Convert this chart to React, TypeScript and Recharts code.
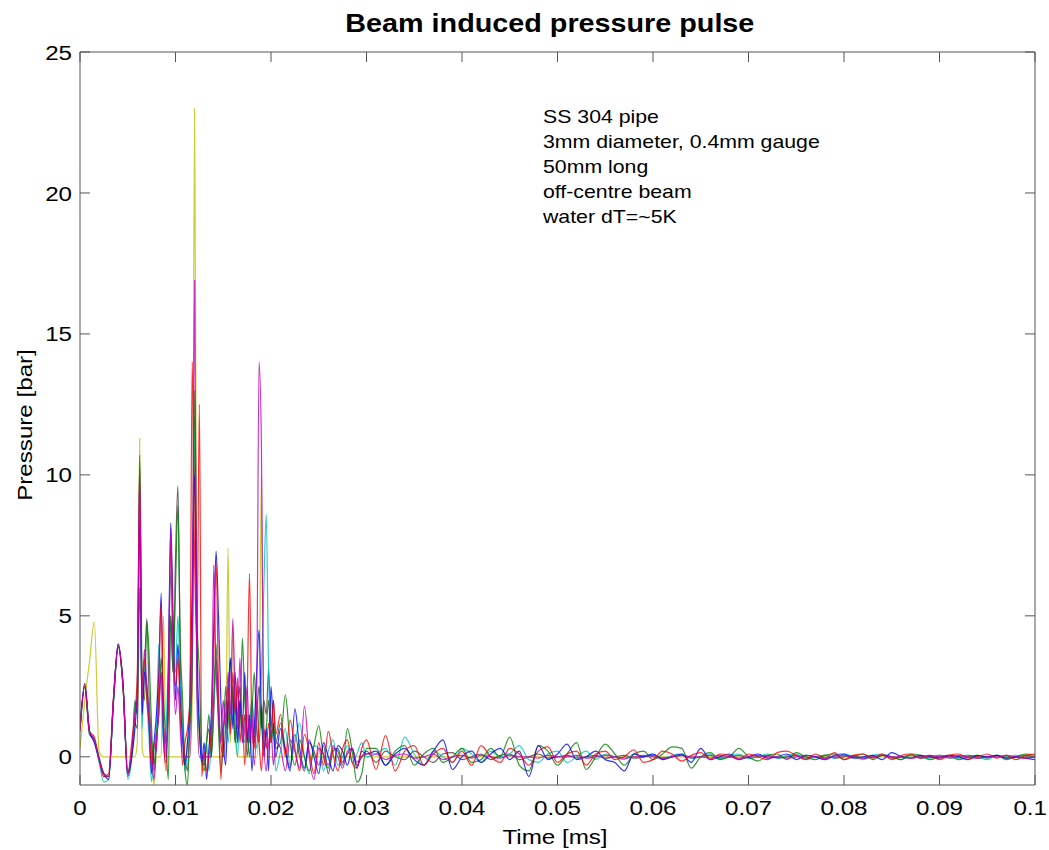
import React from 'react'
import { LineChart, Line, XAxis, YAxis } from 'recharts'

// sample times [ms]: coarse start, fine through the spike burst, then coarser tail
const timeMs = [
  0, 0.0005, 0.001, 0.0015, 0.002, 0.0025, 0.003, 0.0035, 0.004, 0.0045, 0.005,
  0.0055, 0.00575, 0.006, 0.00625, 0.0065, 0.00675, 0.007, 0.00725, 0.0075, 0.00775,
  0.008, 0.00825, 0.0085, 0.00875, 0.009, 0.00925, 0.0095, 0.00975, 0.01, 0.01025,
  0.0105, 0.01075, 0.011, 0.01125, 0.0115, 0.01175, 0.012, 0.01225, 0.0125, 0.01275,
  0.013, 0.01325, 0.0135, 0.01375, 0.014, 0.01425, 0.0145, 0.01475, 0.015, 0.01525,
  0.0155, 0.01575, 0.016, 0.01625, 0.0165, 0.01675, 0.017, 0.01725, 0.0175, 0.01775,
  0.018, 0.01825, 0.0185, 0.01875, 0.019, 0.01925, 0.0195, 0.01975, 0.02, 0.02025,
  0.0205,
  0.021, 0.0215, 0.022, 0.0225, 0.023, 0.0235, 0.024, 0.0245, 0.025, 0.0255,
  0.026, 0.0265, 0.027, 0.0275, 0.028, 0.0285, 0.029, 0.0295, 0.03,
  0.031, 0.032, 0.033, 0.034, 0.035, 0.036, 0.037, 0.038, 0.039, 0.04,
  0.041, 0.042, 0.043, 0.044, 0.045, 0.046, 0.047, 0.048, 0.049, 0.05,
  0.051, 0.052, 0.053, 0.054, 0.055, 0.056, 0.057, 0.058, 0.059, 0.06,
  0.061, 0.062, 0.063, 0.064, 0.065, 0.066, 0.067, 0.068, 0.069, 0.07,
  0.071, 0.072, 0.073, 0.074, 0.075, 0.076, 0.077, 0.078, 0.079, 0.08,
  0.081, 0.082, 0.083, 0.084, 0.085, 0.086, 0.087, 0.088, 0.089, 0.09,
  0.091, 0.092, 0.093, 0.094, 0.095, 0.096, 0.097, 0.098, 0.099, 0.1,
]

// pressure [bar] for each run, same order as timeMs
const yellowRun = [
  0.3, 2.0, 3.4, 4.8, 0.2, 0, 0, 0, 0, 0, 0,
  0, 0, 0.5, 11.3, 0.3, 0, 0, 0, 0, -1.0,
  0, 0, 0, 5.0, 0, 0, 0, 0, 0, 0,
  0, 0, 0, 0, 0, 2.0, 23.0, 3.0, 0, 0,
  0, 0, 0, 0, 0, 0, 0, 0, 0, 0,
  7.4, 0.5, 4.6, 1.0, 0, 0, 0, 0, 0, 0,
  0, 0, 0, 1.5, 10.0, 0.5, 0, 0, 0, 0,
  0,
  0, 0, 0, 0, 0, 0, 0, 0, 0, 0, 0, 0, 0, 0, 0, 0, 0, 0, 0,
  0, 0, 0, 0, 0, 0, 0, 0, 0, 0,
  0, 0, 0, 0, 0, 0, 0, 0, 0, 0,
  0, 0, 0, 0, 0, 0, 0, 0, 0, 0,
  0, 0, 0, 0, 0, 0, 0, 0, 0, 0,
  0, 0, 0, 0, 0, 0, 0, 0, 0, 0,
  0, 0, 0, 0, 0, 0, 0, 0, 0, 0,
  0, 0, 0, 0, 0, 0, 0, 0, 0, 0,
]

const redRun = [
  0.9, 2.5, 0.9, 0.7, -0.1, -0.7, -0.6, 2.1, 3.9, 2.5, -0.6,
  0.8, 1.5, 3.0, 10.2, 2.5, 3.5, 2.0, 1.2, -0.4, 0.5,
  0.2, 2.5, 5.5, 1.0, -0.5, 2.0, 7.6, 4.0, 2.5, 3.5,
  1.5, -0.3, 0.5, 1.0, 2.0, 14.0, 7.0, 4.0, 12.5, -0.7,
  0.2, -0.5, 0.0, 1.0, 3.5, 6.9, 2.5, -0.8, 1.0, 1.5,
  2.5, 0.8, 3.0, 1.5, 2.8, 0.5, 1.5, -0.3, 2.0, 6.5,
  1.0, 0.3, 2.0, 0.5, -0.5, 1.0, 0.3, 1.2, 0.5, 2.0,
  0.8,
  1.5, 0.0, 1.3, 0.3, -0.5, 0.8, 0.2, -0.6, 0.5, -0.3, 0.9, 0.1, -0.5, 0.3, 0.6, -0.2, -0.4, 0.3, 0.6,
  -0.45, 0.75, -0.5, 0.2, 0.4, -0.3, 0.1, 0.3, -0.2, 0.2,
  -0.3, 0.4, 0.0, -0.2, 0.3, 0.1, -0.3, 0.2, 0.35, -0.2,
  0.1, 0.2, -0.3, 0.1, 0.2, -0.1, 0.0, 0.25, -0.2, -0.1,
  0.2, 0.1, -0.15, 0.05, 0.15, -0.1, 0.1, 0.05, -0.1, 0.1,
  0.0, -0.1, 0.15, 0.2, 0.05, -0.1, 0.1, -0.05, 0.15, -0.1,
  0.05, 0.1, -0.05, 0.1, -0.1, 0.05, 0.1, -0.05, 0.05, -0.1,
  0.05, 0.1, -0.05, 0.0, 0.1, -0.05, 0.05, -0.1, 0.05, 0.1,
]

const greenRun = [
  1.0, 2.5, 0.8, 0.6, 0.0, -0.6, -0.7, 1.9, 3.9, 2.6, -0.5,
  0.5, 2.0, 1.5, 10.7, 3.0, 2.0, 4.8, 3.5, 1.0, -0.3,
  0.8, 1.5, 3.5, 2.0, 0.5, -0.8, 5.0, 3.0, 6.0, 8.9,
  4.0, 2.0, -0.5, -1.0, 1.0, 3.0, 13.0, 5.0, 3.0, 0.0,
  -0.5, 0.5, 1.5, 0.0, 2.0, 4.0, 1.0, -0.5, 0.5, 2.5,
  1.0, 3.5, 2.0, 0.5, 2.5, 1.0, 4.2, 2.0, 1.0, 0.0,
  1.5, 3.0, 1.0, 0.5, 1.8, 0.2, 1.0, 2.0, 0.5, 1.2,
  0.3,
  0.5, 2.2, 0.5, -0.3, 0.6, 0.0, -0.5, 0.4, 1.1, 0.0, -0.4, 0.3, 0.2, -0.3, 1.0, 0.2, -0.9, -0.6, 0.3,
  0.3, -0.3, 0.2, 0.4, -0.3, 0.1, 0.3, -0.2, 0.0, 0.3,
  -0.2, -0.1, 0.3, 0.0, 0.7, -0.3, -0.5, 0.4, 0.2, -0.3,
  0.1, 0.5, -0.45, 0.0, 0.45, 0.1, -0.3, 0.1, 0.2, -0.1,
  0.1, 0.35, 0.3, -0.4, 0.0, 0.15, -0.1, 0.0, 0.3, 0.0,
  -0.15, 0.05, 0.1, -0.1, 0.15, 0.0, -0.1, 0.05, 0.1, -0.1,
  0.0, 0.1, -0.1, 0.05, 0.0, -0.1, 0.1, 0.05, -0.1, 0.0,
  0.05, -0.1, 0.0, 0.05, -0.05, 0.05, -0.1, 0.0, 0.1, 0.05,
]

const blueRun = [
  1.0, 2.6, 0.9, 0.5, -0.1, -0.6, -0.8, 2.0, 4.0, 2.6, -0.7,
  0.2, 1.0, 2.5, 8.4, 1.5, 3.0, 2.5, 1.0, -0.6, 0.5,
  1.5, 3.0, 5.8, 0.5, -0.2, 3.0, 8.3, 5.0, 2.0, 4.0,
  2.0, 0.5, -0.3, 0.5, 2.0, 6.0, 10.0, 4.0, 1.0, -0.2,
  0.5, -0.8, 0.3, 1.5, 4.5, 7.3, 5.0, 2.0, 0.5, -0.3,
  2.0, 3.5, 1.0, 3.0, 0.5, 2.0, 1.0, 3.0, 0.5, 1.5,
  -0.5, 1.0, 3.0, 4.5, 1.5, 0.0, 1.0, -0.5, 2.5, 1.0,
  0.0,
  1.0, 0.2, -0.5, 1.7, 0.3, -0.4, 0.6, 0.0, -0.6, 0.5, 0.0, -0.5, 0.4, 0.2, -0.3, 0.3, -0.4, 0.2, 0.1,
  0.2, -0.3, 0.1, 0.3, -0.1, -0.3, 0.2, 0.6, -0.45, 0.0,
  0.2, -0.2, 0.1, 0.3, -0.1, 0.2, -0.7, 0.4, -0.1, 0.1,
  0.45, -0.1, 0.0, 0.2, -0.1, -0.2, -0.5, 0.1, 0.0, 0.1,
  -0.1, 0.0, 0.1, -0.2, 0.3, -0.1, 0.0, 0.1, -0.1, 0.0,
  0.1, -0.05, 0.0, 0.1, -0.1, 0.05, 0.0, -0.1, 0.05, 0.1,
  -0.05, 0.0, 0.05, -0.1, 0.15, 0.0, -0.05, 0.05, 0.0, -0.05,
  0.05, 0.0, -0.1, 0.05, 0.0, 0.05, -0.05, 0.0, -0.05, -0.1,
]

const magentaRun = [
  1.0, 2.6, 0.9, 0.6, -0.1, -0.6, -0.7, 2.0, 4.0, 2.6, -0.6,
  0.5, 1.5, 2.0, 10.0, 2.0, 3.8, 2.5, 1.5, 0.0, -0.8,
  0.5, 1.5, 3.0, 1.0, 0.0, 2.5, 8.1, 3.5, 1.5, 2.5,
  1.0, 0.0, 0.0, 0.0, 0.0, 4.0, 16.9, 2.0, 0.0, 0.0,
  0.0, 0.0, 0.0, 0.0, 6.8, 3.0, 1.5, 0.5, 2.0, 1.0,
  3.0, 1.5, 4.9, 2.0, 1.0, 3.5, 0.5, 1.0, 2.5, 0.5,
  1.5, -0.3, 2.0, 14.0, 11.0, 0.5, -0.5, 0.5, 1.0, -0.3,
  0.5,
  0.3, -0.5, 0.6, 0.2, -0.4, 1.8, 0.0, -0.8, 0.3, 0.1, -0.3, 0.4, 0.0, -0.4, 0.2, 0.3, -0.2, 0.0, 0.1,
  0.1, -0.1, 0.05, 0.1, -0.05, 0.0, 0.1, -0.1, 0.0, 0.05,
  -0.05, 0.05, 0.0, -0.05, 0.05, 0.0, 0.0, -0.05, 0.05, 0.0,
  0.0, 0.05, -0.05, 0.0, 0.05, 0.0, -0.05, 0.0, 0.05, 0.0,
  -0.05, 0.0, 0.05, 0.0, 0.0, -0.05, 0.05, 0.0, -0.05, 0.0,
  0.05, 0.0, 0.0, -0.05, 0.0, 0.05, 0.0, -0.05, 0.0, 0.05,
  0.0, -0.05, 0.0, 0.05, 0.0, 0.0, -0.05, 0.0, 0.05, 0.0,
  0.0, 0.05, 0.0, -0.05, 0.0, 0.0, 0.05, 0.0, -0.05, 0.0,
]

const cyanRun = [
  0.9, 2.5, 0.8, 0.6, -0.2, -0.9, -0.8, 1.9, 3.9, 2.5, -0.8,
  0.3, 1.8, 2.0, 10.5, 1.0, 3.3, 2.0, 0.5, -0.9, 0.3,
  1.0, 4.0, 2.5, 0.5, 1.0, 3.5, 6.5, 4.0, 3.0, 5.0,
  2.5, 1.0, -0.5, 0.5, 1.0, 5.0, 12.0, 3.0, 1.0, -0.3,
  0.0, 0.5, -0.5, 0.5, 2.0, 3.0, 1.5, 0.5, 1.0, 2.0,
  0.5, 1.5, 2.5, 1.0, 0.0, 2.0, 1.0, 0.5, 1.5, 0.5,
  2.0, 1.0, 0.3, 1.5, 3.0, 6.0, 8.6, 3.0, 0.5, 1.0,
  -0.5,
  0.2, 1.0, -0.3, 0.5, 1.2, 0.0, -0.6, 0.4, 0.3, -0.5, 0.2, 0.6, -0.3, 0.0, 0.4, -0.2, 0.1, 0.5, 0.0,
  0.1, 0.3, -0.3, 0.7, 0.1, -0.3, 0.2, 0.0, -0.2, 0.3,
  0.1, -0.2, 0.2, 0.0, 0.1, 0.4, -0.1, -0.2, 0.1, 0.2,
  -0.2, 0.0, 0.2, -0.1, 0.1, 0.0, -0.1, 0.1, 0.0, 0.1,
  -0.1, 0.05, 0.1, -0.05, 0.0, 0.1, -0.1, 0.05, 0.1, -0.05,
  0.0, 0.1, -0.05, 0.05, 0.1, -0.1, 0.0, 0.05, -0.05, 0.1,
  0.0, -0.1, 0.05, 0.1, 0.0, -0.1, 0.05, 0.0, -0.05, 0.05,
  0.0, -0.05, 0.05, 0.0, -0.1, 0.05, 0.0, 0.05, -0.05, 0.0,
]

const blackRun = [
  1.0, 2.5, 0.9, 0.6, -0.1, -0.7, -0.7, 2.0, 4.0, 2.5, -0.6,
  0.3, 1.2, 1.0, 6.0, 2.0, 3.0, 4.9, 2.0, 0.5, -0.5,
  0.5, 2.0, 3.0, 1.0, 0.5, 1.5, 5.0, 3.0, 7.0, 9.6,
  3.5, 1.0, 0.0, -0.5, 1.5, 4.0, 11.0, 2.5, 1.0, 0.0,
  -0.3, 0.5, 1.0, 0.0, 1.5, 3.5, 2.0, 0.5, 0.0, 1.0,
  2.0, 1.0, 2.5, 0.5, 1.5, 2.5, 0.5, 1.5, 0.0, 1.0,
  2.0, 0.5, 1.5, 2.5, 1.0, 2.0, 1.5, 3.1, 1.0, 2.0,
  0.5,
  1.2, 0.3, -0.4, 0.8, 0.0, -0.5, 0.5, 0.2, -0.3, 0.4, -0.6, 0.2, 0.3, -0.2, 0.1, 0.3, -0.3, 0.0, 0.2,
  -0.2, 0.2, 0.0, -0.1, 0.2, 0.0, -0.2, 0.1, 0.15, -0.1,
  0.0, 0.1, -0.1, 0.05, 0.1, -0.1, 0.0, 0.1, -0.05, 0.0,
  0.05, -0.05, 0.0, 0.05, -0.05, 0.0, 0.05, -0.05, 0.0, 0.05,
  -0.05, 0.0, 0.05, -0.05, 0.0, 0.05, -0.05, 0.0, 0.05, -0.05,
  0.0, 0.05, -0.05, 0.0, 0.05, -0.05, 0.0, 0.05, -0.05, 0.0,
  0.05, -0.05, 0.0, 0.05, -0.05, 0.0, 0.05, -0.05, 0.0, 0.05,
  -0.05, 0.0, 0.05, -0.05, 0.0, 0.05, -0.05, 0.0, 0.05, 0.0,
]

const xTicks = [0, 0.01, 0.02, 0.03, 0.04, 0.05, 0.06, 0.07, 0.08, 0.09, 0.1]
const yTicks = [0, 5, 10, 15, 20, 25]
const noteLines = ['SS 304 pipe', '3mm diameter, 0.4mm gauge', '50mm long', 'off-centre beam', 'water dT=~5K']

// draw order: last one ends up on top
const runs = [
  { key: 'yellow', values: yellowRun, color: '#bfbf00' },
  { key: 'black', values: blackRun, color: '#404040' },
  { key: 'cyan', values: cyanRun, color: '#00bfbf' },
  { key: 'green', values: greenRun, color: '#008000' },
  { key: 'blue', values: blueRun, color: '#0000ff' },
  { key: 'red', values: redRun, color: '#ff0000' },
  { key: 'magenta', values: magentaRun, color: '#bf00bf' },
]

const rows = timeMs.map((t, i) => {
  const row: Record<string, number> = { t }
  runs.forEach((r) => {
    row[r.key] = r.values[i]
  })
  return row
})

const FONT = '"Liberation Sans", Arial, Helvetica, sans-serif'
const AXIS_COLOR = '#555555'
const TICK_LEN = 10
// the original figure's lettering is a bit wider than Arial
const STRETCH = 1.15
const LAST_X = xTicks[xTicks.length - 1]

function BottomTick(props: any) {
  const { x, y, payload } = props
  // the last label sits against the page edge, keep it inside
  const isLast = payload.value === LAST_X
  return (
    <g>
      <line x1={x} x2={x} y1={y - 14} y2={y - 14 - TICK_LEN} stroke={AXIS_COLOR} />
      <text
        transform={`translate(${isLast ? x + 12 : x} ${y}) scale(${STRETCH} 1)`}
        dy="0.76em"
        textAnchor={isLast ? 'end' : 'middle'}
        fontSize={21}
        fontFamily={FONT}
        fill="#000"
      >
        {payload.value}
      </text>
    </g>
  )
}

function LeftTick(props: any) {
  const { x, y, payload } = props
  return (
    <g>
      <line x1={x + 8} x2={x + 8 + TICK_LEN} y1={y} y2={y} stroke={AXIS_COLOR} />
      <text
        transform={`translate(${x} ${y}) scale(${STRETCH} 1)`}
        dy="0.36em"
        textAnchor="end"
        fontSize={21}
        fontFamily={FONT}
        fill="#000"
      >
        {payload.value}
      </text>
    </g>
  )
}

function TopTick(props: any) {
  const { x, y } = props
  return <line x1={x} x2={x} y1={y} y2={y + TICK_LEN} stroke={AXIS_COLOR} />
}

function RightTick(props: any) {
  const { x, y } = props
  return <line x1={x} x2={x - TICK_LEN} y1={y} y2={y} stroke={AXIS_COLOR} />
}

export default function App() {
  return (
    <div style={{ position: 'absolute', left: 0, top: 0, width: 1049, height: 850, background: '#fff', fontFamily: FONT }}>
      <LineChart width={1049} height={850} data={rows} margin={{ top: 42, right: 4, left: 20, bottom: 25 }}>
        <XAxis
          dataKey="t"
          type="number"
          domain={[0, 0.1]}
          ticks={xTicks}
          interval={0}
          allowDataOverflow
          height={40}
          tickSize={0}
          tickMargin={14}
          tickLine={false}
          tick={<BottomTick />}
          axisLine={{ stroke: AXIS_COLOR }}
        />
        <XAxis
          xAxisId="top"
          orientation="top"
          dataKey="t"
          type="number"
          domain={[0, 0.1]}
          ticks={xTicks}
          interval={0}
          allowDataOverflow
          height={10}
          tickSize={0}
          tickMargin={0}
          tickLine={false}
          tick={<TopTick />}
          axisLine={{ stroke: AXIS_COLOR }}
        />
        <YAxis
          type="number"
          domain={[-1, 25]}
          ticks={yTicks}
          interval={0}
          allowDataOverflow
          width={60}
          tickSize={0}
          tickMargin={8}
          tickLine={false}
          tick={<LeftTick />}
          axisLine={{ stroke: AXIS_COLOR }}
        />
        <YAxis
          yAxisId="right"
          orientation="right"
          type="number"
          domain={[-1, 25]}
          ticks={yTicks}
          interval={0}
          allowDataOverflow
          width={10}
          tickSize={0}
          tickMargin={0}
          tickLine={false}
          tick={<RightTick />}
          axisLine={{ stroke: AXIS_COLOR }}
        />
        {runs.map((r) => (
          <Line
            key={r.key}
            dataKey={r.key}
            type="monotone"
            stroke={r.color}
            strokeWidth={1.2}
            strokeOpacity={0.8}
            dot={false}
            activeDot={false}
            isAnimationActive={false}
          />
        ))}
      </LineChart>

      <div style={{ position: 'absolute', left: 72, width: 955, top: 9, textAlign: 'center', color: '#000' }}>
        <span
          style={{
            display: 'inline-block',
            fontSize: 25,
            fontWeight: 'bold',
            lineHeight: '28px',
            transform: `scaleX(${STRETCH})`,
            transformOrigin: 'center',
          }}
        >
          Beam induced pressure pulse
        </span>
      </div>

      <div
        style={{
          position: 'absolute',
          left: 543,
          top: 104,
          fontSize: 19,
          lineHeight: '25px',
          color: '#000',
          whiteSpace: 'nowrap',
          transform: 'scaleX(1.12)',
          transformOrigin: 'left top',
        }}
      >
        {noteLines.map((line) => (
          <div key={line}>{line}</div>
        ))}
      </div>

      <div
        style={{
          position: 'absolute',
          left: 555,
          top: 837,
          transform: `translate(-50%, -50%) scaleX(${STRETCH})`,
          fontSize: 21,
          whiteSpace: 'nowrap',
          color: '#000',
        }}
      >
        Time [ms]
      </div>

      <div
        style={{
          position: 'absolute',
          left: 25,
          top: 425,
          transform: `translate(-50%, -50%) rotate(-90deg) scaleX(${STRETCH})`,
          fontSize: 21,
          whiteSpace: 'nowrap',
          color: '#000',
        }}
      >
        Pressure [bar]
      </div>
    </div>
  )
}
